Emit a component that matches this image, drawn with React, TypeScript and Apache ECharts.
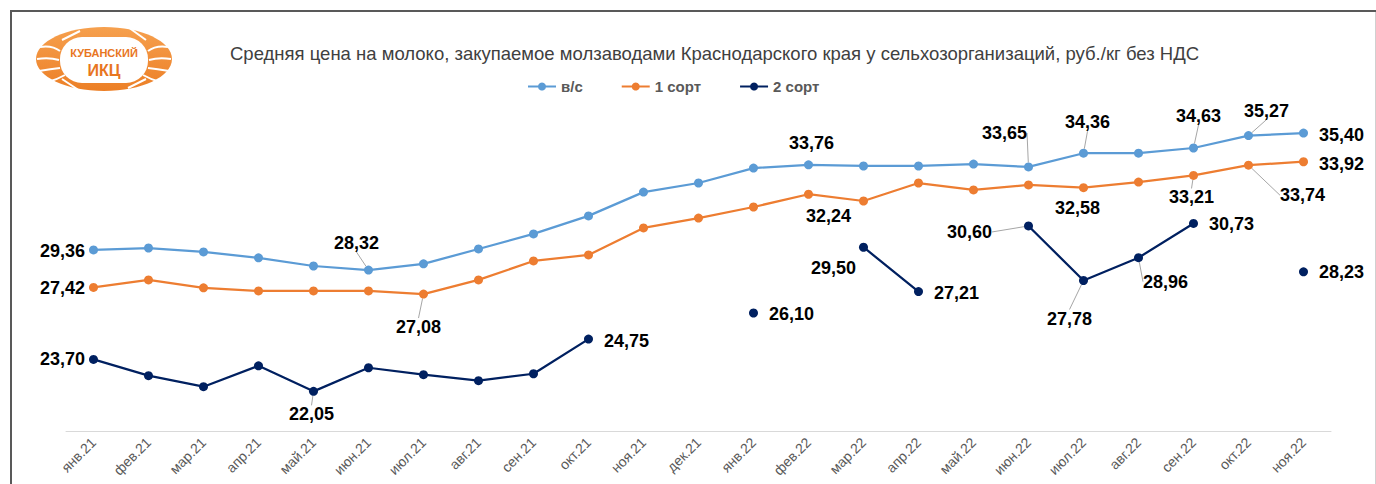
import React, { useEffect, useRef } from "react";
import * as echarts from "echarts";

const months = ["янв.21","фев.21","мар.21","апр.21","май.21","июн.21","июл.21","авг.21","сен.21","окт.21","ноя.21","дек.21","янв.22","фев.22","мар.22","апр.22","май.22","июн.22","июл.22","авг.22","сен.22","окт.22","ноя.22"];

const seriesNames = ["в/с", "1 сорт", "2 сорт"];

const vsPrices = [29.36, 29.46, 29.26, 28.95, 28.53, 28.32, 28.64, 29.41, 30.19, 31.12, 32.35, 32.82, 33.59, 33.76, 33.70, 33.70, 33.80, 33.65, 34.36, 34.36, 34.63, 35.27, 35.40];
const sort1Prices = [27.42, 27.81, 27.40, 27.24, 27.24, 27.24, 27.08, 27.81, 28.79, 29.10, 30.50, 31.01, 31.58, 32.24, 31.89, 32.82, 32.46, 32.72, 32.58, 32.87, 33.21, 33.74, 33.92];
const sort2Prices: (number | null)[] = [23.70, 22.86, 22.29, 23.37, 22.05, 23.27, 22.91, 22.60, 22.96, 24.75, null, null, 26.10, null, 29.50, 27.21, null, 30.60, 27.78, 28.96, 30.73, null, 28.23];

const titleText = "Средняя цена на молоко, закупаемое молзаводами Краснодарского края у сельхозорганизаций, руб./кг без НДС";

// label placement: dataIndex -> [dx, dy, leader line]
const vsLabels: Record<number, [number, number, boolean]> = {
  0: [-31, 1, false], 5: [-12, -27, true], 13: [3, -22, false], 17: [-24, -34, true],
  18: [4, -31, true], 20: [5, -32, true], 21: [18, -25, true], 22: [38, 2, false],
};
const sort1Labels: Record<number, [number, number, boolean]> = {
  0: [-31, 1, false], 6: [-5, 33, true], 13: [20, 22, false], 18: [-6, 20, false],
  20: [-2, 22, true], 21: [54, 30, true], 22: [38, 2, false],
};
const sort2Labels: Record<number, [number, number, boolean]> = {
  0: [-31, 0, false], 4: [-2, 23, true], 9: [38, 2, false], 12: [38, 1, false],
  14: [-30, 21, false], 15: [38, 1, false], 17: [-59, 6, true], 18: [-14, 38, true],
  19: [27, 24, true], 20: [38, 1, false], 22: [38, 0, false],
};

const colors = ["#5B9BD5", "#ED7D31", "#002060"];

const fmt = (v: number) => v.toFixed(2).replace(".", ",");

function buildData(values: (number | null)[], labels: Record<number, [number, number, boolean]>) {
  return values.map((v, i) => {
    const cfg = labels[i];
    if (v === null) return null;
    if (!cfg) return { value: v, label: { show: false } };
    return {
      value: v,
      label: { show: true },
      labelLine: { show: cfg[2] },
    };
  });
}

function makeSeries(name: string, values: (number | null)[], labels: Record<number, [number, number, boolean]>, color: string) {
  return {
    name,
    type: "line",
    data: buildData(values, labels),
    connectNulls: false,
    symbol: "circle",
    symbolSize: 9,
    showSymbol: true,
    lineStyle: { color, width: 2.25 },
    itemStyle: { color },
    label: {
      show: false,
      position: "inside",
      formatter: (p: any) => fmt(p.value),
      color: "#000000",
      fontFamily: "Liberation Sans, Arial, sans-serif",
      fontWeight: "bold",
      fontSize: 18,
    },
    labelLine: {
      show: true,
      lineStyle: { color: "#A6A6A6", width: 1 },
      length2: 0,
    },
    labelLayout: (params: any) => {
      const cfg = labels[params.dataIndex];
      if (!cfg) return {};
      return { dx: cfg[0], dy: cfg[1] };
    },
    emphasis: { disabled: true },
  };
}

function logoGraphics() {
  const stripesLeft = [
    [[40, 47], [52, 45], [60, 51]],
    [[37, 59], [49, 57], [59, 60]],
    [[39, 71], [51, 69], [60, 68]],
    [[48, 82], [58, 79], [65, 75]],
  ];
  const els: any[] = [
    {
      type: "ellipse",
      z: 10,
      silent: true,
      shape: { cx: 104, cy: 59, rx: 68, ry: 32 },
      style: {
        fill: new echarts.graphic.LinearGradient(0, 0, 0, 1, [
          { offset: 0, color: "#F6A04E" },
          { offset: 1, color: "#EC7F26" },
        ]),
      },
    },
    {
      type: "rect",
      z: 11,
      silent: true,
      shape: { x: 60, y: 37, width: 88, height: 46, r: 22 },
      style: { fill: "#FFFFFF" },
    },
  ];
  stripesLeft.forEach((s) => {
    els.push({
      type: "bezierCurve",
      z: 12,
      silent: true,
      shape: { x1: s[0][0], y1: s[0][1], cpx1: s[1][0], cpy1: s[1][1], x2: s[2][0], y2: s[2][1] },
      style: { stroke: "#FFFFFF", lineWidth: 2, fill: null },
    });
    els.push({
      type: "bezierCurve",
      z: 12,
      silent: true,
      shape: { x1: 208 - s[0][0], y1: s[0][1], cpx1: 208 - s[1][0], cpy1: s[1][1], x2: 208 - s[2][0], y2: s[2][1] },
      style: { stroke: "#FFFFFF", lineWidth: 2, fill: null },
    });
  });
  const gaps = [
    [62, 40, 80, 31], [128, 27, 146, 40], [62, 79, 80, 91], [128, 88, 146, 79],
  ];
  gaps.forEach((g) => {
    els.push({ type: "line", z: 12, silent: true, shape: { x1: g[0], y1: g[1], x2: g[2], y2: g[3] }, style: { stroke: "#FFFFFF", lineWidth: 2 } });
  });
  els.push({
    type: "text",
    z: 13,
    silent: true,
    x: 104, y: 53,
    style: { text: "КУБАНСКИЙ", fill: "#E8761F", fontSize: 11, fontWeight: "bold", fontFamily: "Liberation Sans, Arial, sans-serif", align: "center", verticalAlign: "middle" },
  });
  els.push({
    type: "text",
    z: 13,
    silent: true,
    x: 104, y: 70,
    style: { text: "ИКЦ", fill: "#E8761F", fontSize: 16, fontWeight: "bold", fontFamily: "Liberation Sans, Arial, sans-serif", align: "center", verticalAlign: "middle" },
  });
  return els;
}

export default function App() {
  const ref = useRef<HTMLDivElement>(null);
  useEffect(() => {
    document.body.style.margin = "0";
    const chart = echarts.init(ref.current!, undefined, { renderer: "svg" });
    chart.setOption({
      animation: false,
      backgroundColor: "#FFFFFF",
      textStyle: { fontFamily: "Liberation Sans, Arial, sans-serif" },
      title: {
        text: titleText,
        left: 225,
        top: 39,
        textStyle: { fontSize: 18.5, fontWeight: "normal", color: "#404040", fontFamily: "Liberation Sans, Arial, sans-serif" },
      },
      legend: {
        data: seriesNames,
        left: 522,
        top: 74,
        itemWidth: 28,
        itemHeight: 10,
        itemGap: 38,
        textStyle: { fontSize: 15, fontWeight: "bold", color: "#595959", fontFamily: "Liberation Sans, Arial, sans-serif" },
      },
      grid: { left: 66, right: 45, top: 121.5, bottom: 53 },
      xAxis: {
        type: "category",
        data: months,
        boundaryGap: true,
        axisLine: { lineStyle: { color: "#D9D9D9", width: 1 } },
        axisTick: { show: false },
        axisLabel: { rotate: 45, fontSize: 14, color: "#595959", margin: 9, interval: 0 },
      },
      yAxis: { type: "value", min: 20, max: 36, show: false, splitLine: { show: false } },
      series: [
        makeSeries(seriesNames[0], vsPrices, vsLabels, colors[0]),
        makeSeries(seriesNames[1], sort1Prices, sort1Labels, colors[1]),
        makeSeries(seriesNames[2], sort2Prices, sort2Labels, colors[2]),
      ],
      graphic: [
        { type: "line", shape: { x1: 10, y1: 11, x2: 1376, y2: 11 }, style: { stroke: "#595959", lineWidth: 2 }, silent: true },
        { type: "line", shape: { x1: 11, y1: 10, x2: 11, y2: 484 }, style: { stroke: "#595959", lineWidth: 2 }, silent: true },
        { type: "line", shape: { x1: 1375.5, y1: 12, x2: 1375.5, y2: 484 }, style: { stroke: "#D0D0D0", lineWidth: 1 }, silent: true },
        ...logoGraphics(),
      ],
    });
    return () => chart.dispose();
  }, []);
  return <div ref={ref} style={{ position: "fixed", left: 0, top: 0, width: 1376, height: 484 }} />;
}
